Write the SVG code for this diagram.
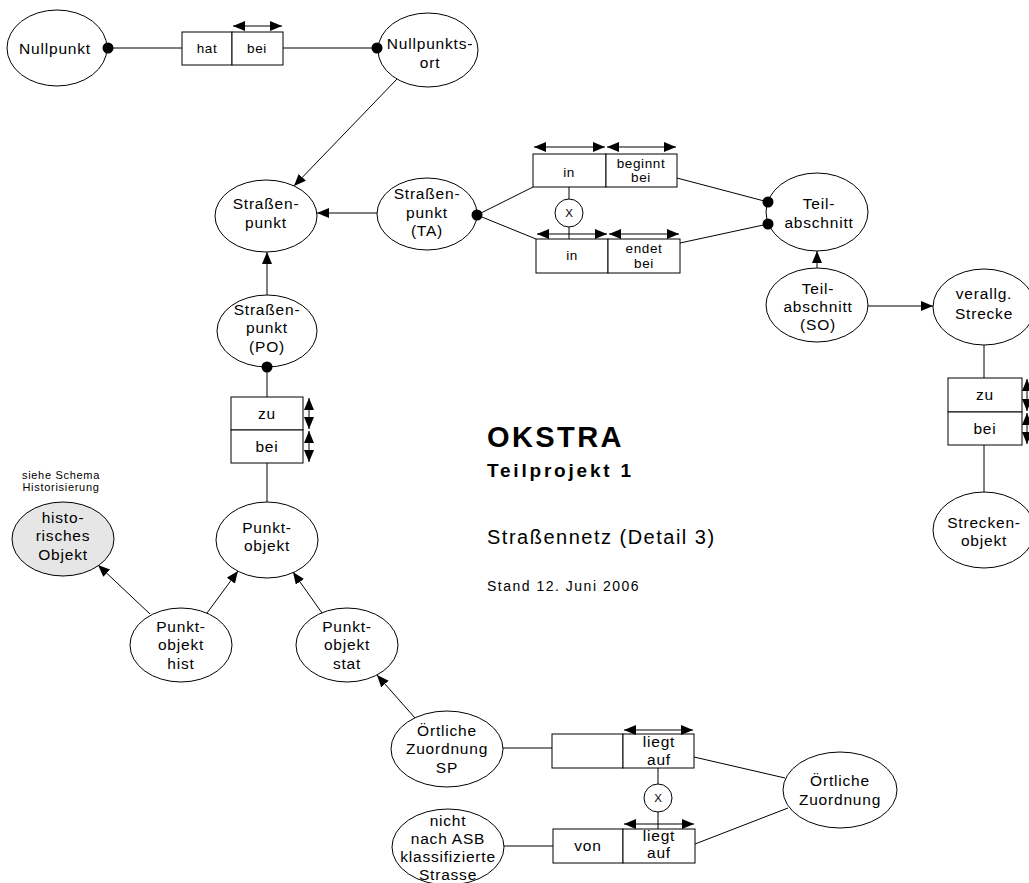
<svg xmlns="http://www.w3.org/2000/svg" width="1029" height="883" viewBox="0 0 1029 883">
<style>
.n{fill:#fff;stroke:#000;stroke-width:1}
.g{fill:#e6e6e6;stroke:#000;stroke-width:1}
.b{fill:#fff;stroke:#000;stroke-width:1}
.l{fill:none;stroke:#000;stroke-width:1}
.a{fill:none;stroke:#000;stroke-width:1;marker-end:url(#ah)}
.d{fill:none;stroke:#000;stroke-width:1;marker-start:url(#ah);marker-end:url(#ah)}
.dot{fill:#000}
text{font-family:"Liberation Sans",Arial,sans-serif;fill:#000;text-anchor:middle}
.t{font-size:15.5px;letter-spacing:0.8px}
.s{font-size:13.5px;letter-spacing:0.6px}
.xo{font-size:11.5px}
.x{font-size:11px;letter-spacing:0.7px}
.h{text-anchor:start}
</style>
<defs>
<marker id="ah" markerUnits="userSpaceOnUse" markerWidth="12" markerHeight="10" refX="12" refY="5" orient="auto-start-reverse" viewBox="0 0 12 10">
<path d="M0,0 L12,5 L0,10 z" fill="#000"/>
</marker>
</defs>

<g id="rel-hat-bei">
<rect class="b" x="182" y="32" width="50" height="33"/>
<rect class="b" x="232" y="32" width="51" height="33"/>
<text class="s" x="207" y="53">hat</text>
<text class="s" x="257" y="53">bei</text>
</g>

<g id="rel-in-beginnt">
<rect class="b" x="533" y="154" width="73" height="33"/>
<rect class="b" x="606" y="154" width="71" height="33"/>
<text class="s" x="569" y="177">in</text>
<text class="s" x="641" y="168">beginnt</text>
<text class="s" x="641" y="182">bei</text>
</g>

<g id="xor-ta">
<circle class="b" cx="569" cy="213" r="14"/>
<text class="xo" x="569" y="217">X</text>
</g>

<g id="rel-in-endet">
<rect class="b" x="536" y="239" width="72" height="34"/>
<rect class="b" x="608" y="239" width="72" height="34"/>
<text class="s" x="572" y="260">in</text>
<text class="s" x="644" y="253">endet</text>
<text class="s" x="644" y="268">bei</text>
</g>

<g id="rel-zu-bei-po">
<rect class="b" x="231" y="397" width="72" height="33"/>
<rect class="b" x="231" y="430" width="72" height="33"/>
<text class="t" x="267" y="419">zu</text>
<text class="t" x="267" y="452">bei</text>
</g>

<g id="rel-zu-bei-str">
<rect class="b" x="948" y="378" width="74" height="34"/>
<rect class="b" x="948" y="412" width="74" height="33"/>
<text class="t" x="985" y="400">zu</text>
<text class="t" x="985" y="434">bei</text>
</g>

<g id="rel-liegt-auf-1">
<rect class="b" x="552" y="734" width="71" height="34"/>
<rect class="b" x="623" y="734" width="71" height="34"/>
<text class="t" x="659" y="747">liegt</text>
<text class="t" x="659" y="765">auf</text>
</g>

<g id="xor-oz">
<circle class="b" cx="658" cy="798" r="14"/>
<text class="xo" x="658" y="802">X</text>
</g>

<g id="rel-von-liegt-auf">
<rect class="b" x="553" y="829" width="70" height="34"/>
<rect class="b" x="623" y="829" width="72" height="34"/>
<text class="t" x="588" y="851">von</text>
<text class="t" x="659" y="841">liegt</text>
<text class="t" x="659" y="858">auf</text>
</g>

<g id="nullpunkt">
<ellipse class="n" cx="57" cy="48" rx="50" ry="38"/>
<text class="t" x="55" y="54">Nullpunkt</text>
</g>

<g id="nullpunktsort">
<ellipse class="n" cx="428" cy="50" rx="50" ry="37"/>
<text class="t" x="430" y="48.5">Nullpunkts-</text>
<text class="t" x="430" y="67.5">ort</text>
</g>

<g id="strassenpunkt">
<ellipse class="n" cx="266" cy="216" rx="51" ry="36"/>
<text class="t" x="266" y="208.5">Straßen-</text>
<text class="t" x="266" y="227.5">punkt</text>
</g>

<g id="strassenpunkt-ta">
<ellipse class="n" cx="427" cy="214" rx="50" ry="36"/>
<text class="t" x="427" y="199">Straßen-</text>
<text class="t" x="427" y="217.5">punkt</text>
<text class="t" x="427" y="236">(TA)</text>
</g>

<g id="strassenpunkt-po">
<ellipse class="n" cx="267" cy="331" rx="50" ry="36"/>
<text class="t" x="267" y="314.5">Straßen-</text>
<text class="t" x="267" y="333">punkt</text>
<text class="t" x="267" y="351.5">(PO)</text>
</g>

<g id="teilabschnitt">
<ellipse class="n" cx="817" cy="212" rx="51" ry="39"/>
<text class="t" x="819" y="208.5">Teil-</text>
<text class="t" x="819" y="227.5">abschnitt</text>
</g>

<g id="teilabschnitt-so">
<ellipse class="n" cx="817" cy="305" rx="51" ry="37"/>
<text class="t" x="818" y="293.5">Teil-</text>
<text class="t" x="818" y="312">abschnitt</text>
<text class="t" x="818" y="330">(SO)</text>
</g>

<g id="verallg-strecke">
<ellipse class="n" cx="984" cy="307" rx="51" ry="38"/>
<text class="t" x="984" y="299">verallg.</text>
<text class="t" x="984" y="319">Strecke</text>
</g>

<g id="streckenobjekt">
<ellipse class="n" cx="984" cy="530" rx="51" ry="38"/>
<text class="t" x="984" y="527.5">Strecken-</text>
<text class="t" x="984" y="546">objekt</text>
</g>

<g id="historisches-objekt">
<text class="x" x="61" y="479">siehe Schema</text>
<text class="x" x="61" y="491">Historisierung</text>
<ellipse class="g" cx="63" cy="539" rx="51" ry="37"/>
<text class="t" x="63" y="522.5">histo-</text>
<text class="t" x="63" y="541">risches</text>
<text class="t" x="63" y="559.5">Objekt</text>
</g>

<g id="punktobjekt">
<ellipse class="n" cx="267" cy="540" rx="51" ry="38"/>
<text class="t" x="267" y="532.5">Punkt-</text>
<text class="t" x="267" y="551">objekt</text>
</g>

<g id="punktobjekt-hist">
<ellipse class="n" cx="181" cy="645" rx="51" ry="37"/>
<text class="t" x="181" y="631.5">Punkt-</text>
<text class="t" x="181" y="650">objekt</text>
<text class="t" x="181" y="668.5">hist</text>
</g>

<g id="punktobjekt-stat">
<ellipse class="n" cx="347" cy="645" rx="51" ry="37"/>
<text class="t" x="347" y="631.5">Punkt-</text>
<text class="t" x="347" y="650">objekt</text>
<text class="t" x="347" y="668.5">stat</text>
</g>

<g id="oertliche-zuordnung-sp">
<ellipse class="n" cx="447" cy="749" rx="56" ry="38"/>
<text class="t" x="447" y="735.5">Örtliche</text>
<text class="t" x="447" y="754">Zuordnung</text>
<text class="t" x="447" y="772.5">SP</text>
</g>

<g id="nicht-asb-strasse">
<ellipse class="n" cx="448" cy="847" rx="56" ry="38"/>
<text class="t" x="448" y="825.5">nicht</text>
<text class="t" x="448" y="843.5">nach ASB</text>
<text class="t" x="448" y="861.5">klassifizierte</text>
<text class="t" x="448" y="879.5">Strasse</text>
</g>

<g id="oertliche-zuordnung">
<ellipse class="n" cx="840" cy="790" rx="57" ry="38"/>
<text class="t" x="840" y="785.5">Örtliche</text>
<text class="t" x="840" y="805">Zuordnung</text>
</g>

<g id="title">
<text class="h" x="487" y="447" style="font-size:29px;font-weight:bold;letter-spacing:2.4px">OKSTRA</text>
<text class="h" x="487" y="477" style="font-size:19px;font-weight:bold;letter-spacing:2.8px">Teilprojekt 1</text>
<text class="h" x="487" y="544" style="font-size:20px;letter-spacing:1.5px">Straßennetz (Detail 3)</text>
<text class="h" x="487" y="591" style="font-size:14px;letter-spacing:1.5px">Stand 12. Juni 2006</text>
</g>

<g id="connectors">
<line class="l" x1="108" y1="48" x2="182" y2="48"/>
<line class="l" x1="283" y1="48" x2="377" y2="48"/>
<line class="d" x1="233" y1="26" x2="282" y2="26"/>
<line class="a" x1="397" y1="79" x2="294" y2="186"/>
<line class="a" x1="377" y1="213" x2="317" y2="213"/>
<line class="a" x1="267" y1="295" x2="267" y2="252"/>
<line class="l" x1="267" y1="367" x2="267" y2="397"/>
<line class="d" x1="309" y1="398" x2="309" y2="429"/>
<line class="d" x1="309" y1="431" x2="309" y2="462"/>
<line class="l" x1="267" y1="463" x2="267" y2="502"/>
<line class="a" x1="150" y1="614" x2="98" y2="565"/>
<line class="a" x1="207" y1="613" x2="238" y2="571"/>
<line class="a" x1="322" y1="613" x2="293" y2="572"/>
<line class="a" x1="415" y1="718" x2="377" y2="675"/>
<line class="l" x1="503" y1="748" x2="552" y2="748"/>
<line class="d" x1="624" y1="730" x2="693" y2="730"/>
<line class="l" x1="694" y1="757" x2="785" y2="778"/>
<line class="l" x1="658" y1="768" x2="658" y2="784"/>
<line class="l" x1="658" y1="812" x2="658" y2="829"/>
<line class="d" x1="624" y1="824" x2="694" y2="824"/>
<line class="l" x1="504" y1="846" x2="553" y2="846"/>
<line class="l" x1="695" y1="844" x2="788" y2="808"/>
<line class="l" x1="477" y1="215" x2="533" y2="187"/>
<line class="l" x1="477" y1="215" x2="536" y2="239"/>
<line class="d" x1="534" y1="147" x2="605" y2="147"/>
<line class="d" x1="607" y1="147" x2="676" y2="147"/>
<line class="l" x1="569" y1="187" x2="569" y2="199"/>
<line class="l" x1="569" y1="227" x2="569" y2="239"/>
<line class="d" x1="537" y1="234" x2="607" y2="234"/>
<line class="d" x1="609" y1="234" x2="679" y2="234"/>
<line class="l" x1="677" y1="178" x2="768" y2="202"/>
<line class="l" x1="680" y1="243" x2="768" y2="224"/>
<line class="a" x1="817" y1="268" x2="817" y2="251"/>
<line class="a" x1="868" y1="306" x2="933" y2="306"/>
<line class="l" x1="984" y1="345" x2="984" y2="378"/>
<line class="d" x1="1027" y1="379" x2="1027" y2="411"/>
<line class="d" x1="1027" y1="413" x2="1027" y2="444"/>
<line class="l" x1="984" y1="445" x2="984" y2="492"/>
<circle class="dot" cx="108" cy="48" r="5.5"/>
<circle class="dot" cx="377" cy="48" r="5.5"/>
<circle class="dot" cx="267" cy="367" r="5.5"/>
<circle class="dot" cx="477" cy="215" r="5.5"/>
<circle class="dot" cx="768" cy="202" r="5.5"/>
<circle class="dot" cx="768" cy="224" r="5.5"/>
</g>
</svg>
